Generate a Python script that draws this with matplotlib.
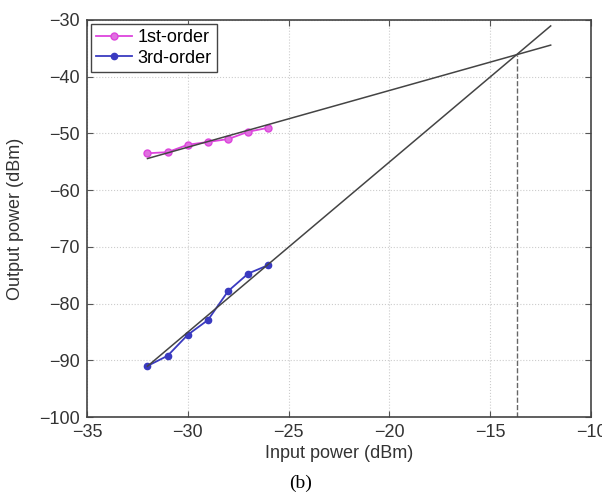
import numpy as np
import matplotlib
matplotlib.use("Agg")
from matplotlib import pyplot as plt

plt.rcParams['font.family'] = ['Liberation Sans', 'DejaVu Sans']

# measured points
p_in = [-32, -31, -30, -29, -28, -27, -26]
p_1st = [-53.5, -53.3, -52.0, -51.5, -51.0, -49.7, -49.0]
p_3rd = [-91.0, -89.2, -85.5, -82.9, -77.8, -74.7, -73.2]

# fit range and fixed slopes (1 and 3)
fit_x = [-32, -12]
slope_1st = 1
slope_3rd = 3

xticks = [-35, -30, -25, -20, -15, -10]
yticks = [-100, -90, -80, -70, -60, -50, -40, -30]

c1 = np.mean(np.array(p_1st) - slope_1st * np.array(p_in))
c3 = np.mean(np.array(p_3rd) - slope_3rd * np.array(p_in))
xf = np.array(fit_x, dtype=float)
iip3 = (c3 - c1) / (slope_1st - slope_3rd)
oip3 = slope_1st * iip3 + c1

fig = plt.figure(figsize=(6.02, 4.94), dpi=100)
ax = fig.add_axes([87 / 602, 77 / 494, 504 / 602, 397 / 494])

ax.plot(p_in, p_1st, '-o', color='#dd44dd', lw=1.3, ms=5, mfc='#e070e0', label='1st-order', zorder=3)
ax.plot(p_in, p_3rd, '-o', color='#3a3ac0', lw=1.3, ms=4.5, mfc='#3a3ac0', label='3rd-order', zorder=3)
ax.plot(xf, slope_1st * xf + c1, color='#444444', lw=1.1, zorder=4)
ax.plot(xf, slope_3rd * xf + c3, color='#444444', lw=1.1, zorder=4)
ax.plot([iip3, iip3], [-100, oip3], '--', color='#666666', lw=1.0, zorder=2)

ax.set_xlim(-35, -10)
ax.set_ylim(-100, -30)
ax.set_xticks(xticks)
ax.set_yticks(yticks)
ax.grid(True, color='#cccccc', ls=':', lw=0.8)
ax.tick_params(direction='in', top=True, right=True, labelsize=13, length=4, pad=5,
               color='#555555', labelcolor='#333333')
for s in ax.spines.values():
    s.set_color('#444444')
    s.set_linewidth(1.2)

ax.set_xlabel('Input power (dBm)', fontsize=13, labelpad=3, color='#333333')
ax.set_ylabel('Output power (dBm)', fontsize=13, labelpad=11, color='#333333')

leg = ax.legend(loc='upper left', fontsize=13, handlelength=2.0, borderpad=0.3,
                labelspacing=0.2, handletextpad=0.3, fancybox=False, framealpha=1,
                borderaxespad=0.2)
leg.get_frame().set_edgecolor('#444444')

fig.text(0.5, 11 / 494, '(b)', ha='center', va='center', fontsize=14, family='Liberation Serif')

fig.savefig('out.png', dpi=100)
